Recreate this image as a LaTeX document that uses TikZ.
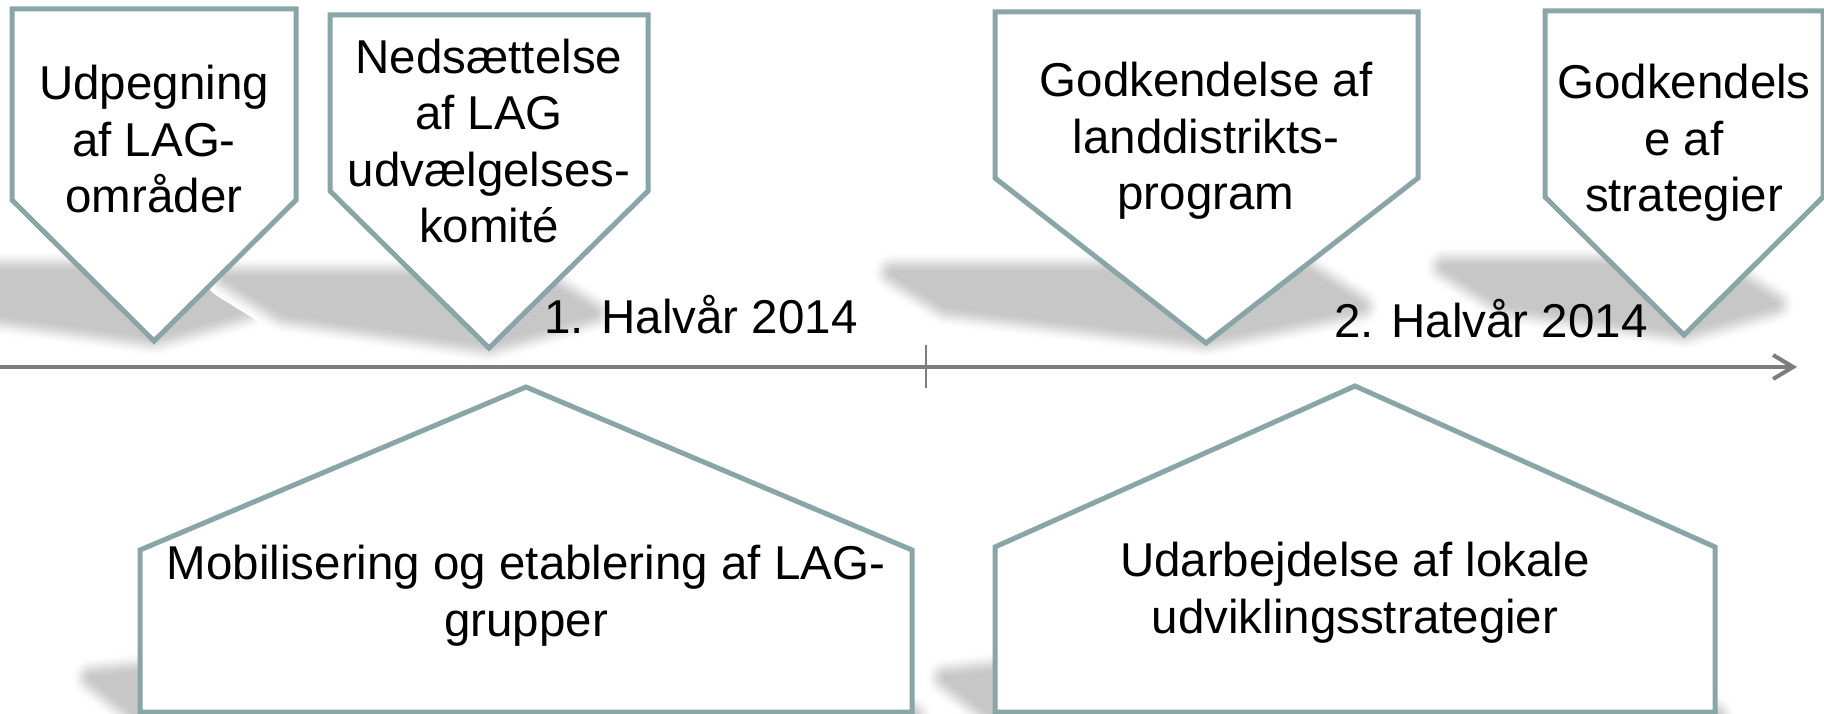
\documentclass[tikz,border=0pt]{standalone}
\usepackage{fontspec}
\setmainfont{Liberation Sans}
\usetikzlibrary{arrows.meta}
\definecolor{boxline}{RGB}{137,165,168}
\definecolor{axisgray}{RGB}{125,125,125}
\newcommand\softshadow[1]{%
  \foreach \j in {1,...,13}{%
    \pgfmathsetmacro\tt{\j/14}%
    \pgfmathsetmacro\sw{44*(1-\tt)}%
    \pgfmathsetmacro\sc{22*\tt*\tt*(3-2*\tt)}%
    \filldraw[draw=black!\sc, fill=black!\sc, line width=\sw pt, line join=round] #1;
  }%
  \fill[black!22] #1;
}
\begin{document}
\begin{tikzpicture}[x=1pt,y=-1pt,
  box/.style={draw=boxline, line width=5pt, fill=white, line join=miter},
  lbl/.style={font=\fontsize{47.5}{56.6}\selectfont, align=center, inner sep=0pt, anchor=base},
  axisline/.style={draw=axisgray, line width=4pt},
  tickline/.style={draw=axisgray, line width=2.5pt}]
\path[use as bounding box, fill=white] (0,0) rectangle (1824,714);

% shadows
\softshadow{(-90,272) -- (186,272) -- (246,310) -- (154,336) -- (-33,310) -- cycle}
\softshadow{(227,278) -- (537,278) -- (593,313) -- (489,343) -- (283,313) -- cycle}
\softshadow{(893,273) -- (1308,273) -- (1360,306) -- (1206,338) -- (946,306) -- cycle}
\softshadow{(1445,267) -- (1715,267) -- (1774,304) -- (1684,330) -- (1505,304) -- cycle}
\softshadow{(140,716) -- (92,678) -- (422,645) -- (856,678) -- (912,716) -- cycle}
\softshadow{(995,716) -- (946,678) -- (1250,645) -- (1658,678) -- (1715,716) -- cycle}

% axis
\coordinate (axL) at (0,367);
\coordinate (axR) at (1797,367);
\draw[axisline, -{Straight Barb[length=20pt,width=24pt]}] (axL) -- (axR);
\coordinate (tkT) at (926,345);
\coordinate (tkB) at (926,388);
\draw[tickline] (tkT) -- (tkB);

% top boxes
\draw[box] (12,9) -- (296,9) -- (296,200) -- (154,341) -- (12,200) -- cycle;
\draw[box] (330,15) -- (648,15) -- (648,191) -- (489,348) -- (330,191) -- cycle;
\draw[box] (995,12) -- (1418,12) -- (1418,178) -- (1206,343) -- (995,178) -- cycle;
\draw[box] (1545,11) -- (1823,11) -- (1823,197) -- (1684,335) -- (1545,197) -- cycle;

\node[lbl] (t1) at (154,213) {Udpegning\\af LAG-\\områder};
\node[lbl] (t2) at (489,243) {Nedsættelse\\af LAG\\udvælgelses-\\komité};
\node[lbl] (t3) at (1206,210) {Godkendelse af\\landdistrikts-\\program};
\node[lbl] (t4) at (1684,212) {Godkendels\\e af\\strategier};

% bottom boxes
\draw[box] (140,712) -- (140,550) -- (526,387) -- (912,550) -- (912,712) -- cycle;
\draw[box] (995,712) -- (995,547) -- (1355,386) -- (1715,547) -- (1715,712) -- cycle;
\node[lbl] (b1) at (526,636) {Mobilisering og etablering af LAG-\\grupper};
\node[lbl] (b2) at (1355,633) {Udarbejdelse af lokale\\udviklingsstrategier};

% period labels
\node[lbl] (h1) at (701,333) {1. Halvår 2014};
\node[lbl] (h2) at (1491,337) {2. Halvår 2014};
\end{tikzpicture}
\end{document}
